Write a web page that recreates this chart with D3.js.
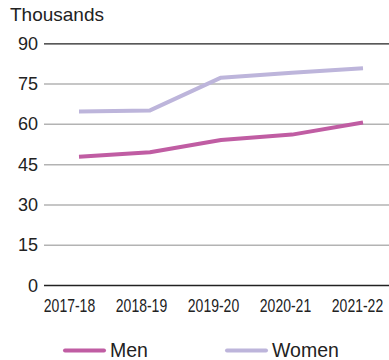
<!DOCTYPE html>
<html><head><meta charset="utf-8">
<script src="https://cdn.jsdelivr.net/npm/d3@7"></script>
<style>body{margin:0;background:#fff}svg{display:block}</style>
</head><body>
<svg id="c" width="389" height="360"></svg>
<script>
const categories = ["2017-18","2018-19","2019-20","2020-21","2021-22"];
const men = [47.8, 49.4, 54.0, 56.0, 60.5];
const women = [64.6, 65.0, 77.2, 79.0, 80.7];
const yTicks = [0, 15, 30, 45, 60, 75, 90];
const seriesNames = ["Men", "Women"];
const colors = ["#c05da3", "#bdb5db"];

const svg = d3.select("#c");
const y = d3.scaleLinear().domain([0, 90]).range([285, 43.3]);
const xLine = d3.scalePoint().domain(categories).range([79, 363]);
const xLab = d3.scalePoint().domain(categories).range([69, 357]);

// y gridlines / axis
const yAxis = d3.axisLeft(y).tickValues(yTicks).tickSize(0).tickPadding(0);
const gy = svg.append("g").attr("transform", "translate(44,0)").call(yAxis);
gy.select(".domain").remove();
gy.selectAll(".tick line").remove();
gy.selectAll(".tick").append("line")
  .attr("x1", 0).attr("x2", 345)
  .attr("stroke", d => (d === 0 || d === 90) ? "#222" : "#b3b3b3")
  .attr("stroke-width", d => (d === 0 || d === 90) ? 1.3 : 1.5);
gy.selectAll(".tick text")
  .attr("x", -6).attr("dy", "0.34em")
  .attr("font-family", "Liberation Sans, Arial, sans-serif")
  .attr("font-size", 18).attr("fill", "#222");

// x labels (condensed)
const xAxis = d3.axisBottom(xLab).tickSize(0).tickPadding(0);
const gx = svg.append("g").attr("transform", "translate(0,300)").call(xAxis);
gx.select(".domain").remove();
gx.selectAll(".tick text")
  .attr("dy", "0.71em")
  .attr("transform", "scale(0.8,1)")
  .attr("font-family", "Liberation Sans, Arial, sans-serif")
  .attr("font-size", 17.5).attr("fill", "#222");

svg.append("text").attr("x", 10).attr("y", 21)
  .attr("font-family", "Liberation Sans, Arial, sans-serif")
  .attr("font-size", 19).attr("fill", "#222").text("Thousands");

const line = d3.line().x((d, i) => xLine(categories[i])).y(d => y(d));
[men, women].forEach((s, k) => {
  svg.append("path").datum(s).attr("d", line)
    .attr("fill", "none").attr("stroke", colors[k])
    .attr("stroke-width", 4).attr("stroke-linejoin", "round");
});

// legend
const legX = [65, 227];
seriesNames.forEach((n, k) => {
  svg.append("line").attr("x1", legX[k]).attr("x2", legX[k] + 39)
    .attr("y1", 350.5).attr("y2", 350.5)
    .attr("stroke", colors[k]).attr("stroke-width", 4).attr("stroke-linecap", "round");
  svg.append("text").attr("x", legX[k] + 45).attr("y", 357)
    .attr("font-family", "Liberation Sans, Arial, sans-serif")
    .attr("font-size", 19.5).attr("fill", "#222").text(n);
});
</script>
</body></html>
